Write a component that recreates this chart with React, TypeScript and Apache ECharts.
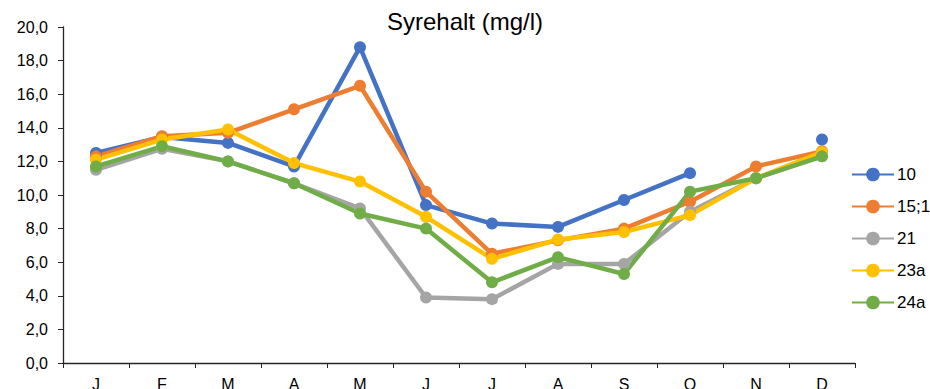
import React, { useEffect, useRef } from "react";
import * as echarts from "echarts";

const months = ["J", "F", "M", "A", "M", "J", "J", "A", "S", "O", "N", "D"];
const s10 = [12.5, 13.45, 13.1, 11.7, 18.8, 9.4, 8.3, 8.1, 9.7, 11.3, null, 13.3];
const s15 = [12.3, 13.5, 13.7, 15.1, 16.5, 10.2, 6.5, 7.3, 8.0, 9.6, 11.7, 12.6];
const s21 = [11.5, 12.75, 12.0, 10.7, 9.2, 3.9, 3.8, 5.9, 5.9, 9.0, 11.0, 12.3];
const s23a = [12.1, 13.3, 13.9, 11.9, 10.8, 8.7, 6.2, 7.35, 7.8, 8.8, 11.0, 12.55];
const s24a = [11.7, 12.9, 12.0, 10.7, 8.9, 8.0, 4.8, 6.3, 5.3, 10.2, 11.0, 12.3];
const seriesNames = ["10", "15;1", "21", "23a", "24a"];
const seriesData = [s10, s15, s21, s23a, s24a];
const colors = ["#4472C4", "#ED7D31", "#A5A5A5", "#FFC000", "#70AD47"];

export default function App() {
  const ref = useRef<HTMLDivElement>(null);
  useEffect(() => {
    if (!ref.current) return;
    const chart = echarts.init(ref.current, undefined, { renderer: "svg" });
    const font = "'Liberation Sans', Arial, sans-serif";
    chart.setOption({
      animation: false,
      color: colors,
      textStyle: { fontFamily: font },
      title: {
        text: "Syrehalt (mg/l)",
        left: "center",
        top: 9,
        padding: 0,
        textStyle: { fontFamily: font, fontSize: 24, fontWeight: "normal", color: "#000" },
      },
      legend: {
        orient: "vertical",
        left: 851,
        top: 166,
        padding: 0,
        itemWidth: 42,
        itemHeight: 17,
        itemGap: 15,
        textStyle: { fontFamily: font, fontSize: 17, color: "#000", padding: [0, 0, 0, -2] },
        data: seriesNames,
      },
      grid: {
        left: 63,
        right: 75,
        top: 27,
        bottom: 26,
        containLabel: false,
        outerBoundsMode: "none",
      },
      xAxis: {
        type: "category",
        data: months,
        boundaryGap: true,
        axisLine: { lineStyle: { color: "#262626", width: 1.3 } },
        axisTick: { show: true, length: 5, lineStyle: { color: "#262626" } },
        axisLabel: { fontFamily: font, fontSize: 16, color: "#000", margin: 13 },
      },
      yAxis: {
        type: "value",
        min: 0,
        max: 20,
        interval: 2,
        splitLine: { show: false },
        axisLine: { show: true, lineStyle: { color: "#262626", width: 1.3 } },
        axisTick: { show: true, length: 5, lineStyle: { color: "#262626" } },
        axisLabel: {
          fontFamily: font,
          fontSize: 16,
          color: "#000",
          margin: 15,
          formatter: (v: number) => v.toFixed(1).replace(".", ","),
        },
      },
      series: seriesNames.map((name, i) => ({
        name,
        type: "line",
        data: seriesData[i],
        symbol: "circle",
        symbolSize: 12,
        connectNulls: false,
        lineStyle: { width: 4.5, color: colors[i] },
        itemStyle: { color: colors[i] },
      })),
    });
    return () => chart.dispose();
  }, []);
  return (
    <div
      ref={ref}
      style={{ position: "fixed", left: 0, top: 0, width: 930, height: 389, background: "#fff" }}
    />
  );
}
